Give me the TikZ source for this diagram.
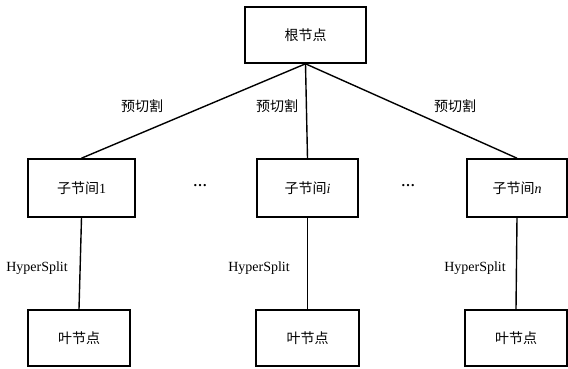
\documentclass[tikz,border=0pt]{standalone}
\usepackage{fontspec}
\setmainfont{Liberation Serif}
\newfontfamily\cjk{Noto Sans CJK SC}
\begin{document}
\begin{tikzpicture}[x=1pt,y=-1pt,
  box/.style={draw,line width=1.6pt,minimum width=#1,inner sep=0pt,font=\fontsize{14}{16}\selectfont},
  box/.default=102pt,
  conn/.style={line width=1.4pt},
  lbl/.style={font=\fontsize{14}{16}\selectfont,inner sep=0pt}]
\useasboundingbox (0,0) rectangle (568,368);
\node[box=121pt,minimum height=56pt] (root) at (305.5,35) {\cjk 根节点};
\node[box=107pt,minimum height=58pt] (c1) at (81.5,188) {\cjk 子节间\normalfont 1};
\node[box=101pt,minimum height=58pt] (c2) at (307.5,188) {\cjk 子节间\normalfont\itshape i};
\node[box=100pt,minimum height=58pt] (c3) at (517,188) {\cjk 子节间\normalfont\itshape n};
\node[box=102pt,minimum height=56pt] (l1) at (79,338) {\cjk 叶节点};
\node[box=103pt,minimum height=56pt] (l2) at (307.5,338) {\cjk 叶节点};
\node[box=102pt,minimum height=56pt] (l3) at (516,338) {\cjk 叶节点};
\draw[conn] (root.south) -- (c1.north);
\draw[conn] (root.south) -- (c2.north);
\draw[conn] (root.south) -- (c3.north);
\draw[conn] (c1.south) -- (l1.north);
\draw[conn] (c2.south) -- (l2.north);
\draw[conn] (c3.south) -- (l3.north);
\node[lbl] (p1) at (142,106) {\cjk 预切割};
\node[lbl] (p2) at (277,106) {\cjk 预切割};
\node[lbl] (p3) at (455,106) {\cjk 预切割};
\node[lbl] (h1) at (37,268) {HyperSplit};
\node[lbl] (h2) at (259,268) {HyperSplit};
\node[lbl] (h3) at (475,268) {HyperSplit};
\node[lbl] (d1) at (200,186) {\textbf{…}};
\node[lbl] (d2) at (408,186) {\textbf{…}};
\end{tikzpicture}
\end{document}
